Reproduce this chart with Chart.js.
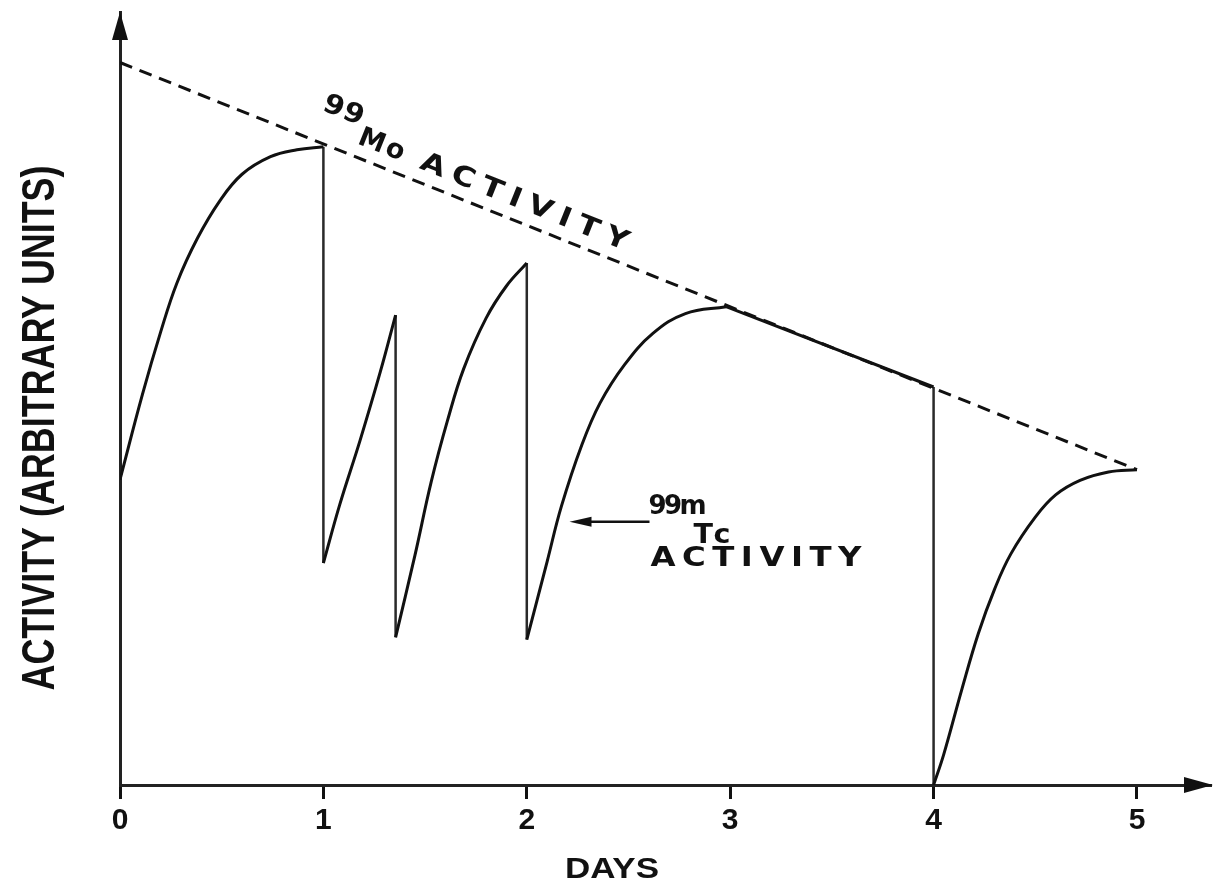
<!DOCTYPE html>
<html lang="en">
<head>
    <meta charset="UTF-8">
    <title>99Mo / 99mTc activity</title>
    <script src="https://cdn.jsdelivr.net/npm/chart.js"></script>
    <style>
        html, body { margin: 0; padding: 0; background: #fff; }
        #wrap { width: 1219px; height: 884px; }
    </style>
</head>
<body>
    <div id="wrap"><canvas id="activityChart"></canvas></div>

    <script>
        // x ticks (days)
        const dayTicks = [0, 1, 2, 3, 4, 5];

        // 99Mo parent activity (dashed line)
        const moDays = [0, 5];
        const moActivity = [94.4, 41.2];

        // 99mTc activity, one array pair per growth period
        const tcDays1 = [0, 0.11, 0.2, 0.28, 0.38, 0.49, 0.6, 0.74, 0.87, 1];
        const tcAct1 = [39.9, 51.0, 59.2, 65.6, 71.4, 76.3, 79.8, 82.1, 83.0, 83.4];
        const tcDays2 = [1, 1.08, 1.18, 1.28, 1.355];
        const tcAct2 = [29.0, 36.6, 45.0, 54.0, 61.4];
        const tcDays3 = [1.355, 1.45, 1.53, 1.61, 1.69, 1.8, 1.9, 2];
        const tcAct3 = [19.3, 30.0, 39.6, 47.6, 54.4, 61.0, 65.2, 68.2];
        const tcDays4 = [2, 2.1, 2.17, 2.27, 2.36, 2.48, 2.62, 2.78, 2.98];
        const tcAct4 = [19.0, 29.2, 36.4, 44.4, 49.9, 54.9, 59.0, 61.6, 62.5];
        const tcDays5 = [2.98, 4];
        const tcAct5 = [62.5, 52.0];
        const tcDays6 = [4, 4.05, 4.14, 4.22, 4.3, 4.38, 4.5, 4.6, 4.72, 4.86, 5];
        const tcAct6 = [0, 4.0, 12.6, 19.8, 25.6, 30.2, 35.0, 37.9, 39.8, 40.9, 41.2];

        const toPoints = (xs, ys) => xs.map((x, i) => ({ x: x, y: ys[i] }));

        const rises = [
            toPoints(tcDays1, tcAct1),
            toPoints(tcDays2, tcAct2),
            toPoints(tcDays3, tcAct3),
            toPoints(tcDays4, tcAct4),
            toPoints(tcDays6, tcAct6)
        ];
        const plateau = toPoints(tcDays5, tcAct5);

        // elutions: vertical drop from end of one period to start of the next
        const drops = [
            [rises[0][rises[0].length - 1], rises[1][0]],
            [rises[1][rises[1].length - 1], rises[2][0]],
            [rises[2][rises[2].length - 1], rises[3][0]],
            [plateau[plateau.length - 1], rises[4][0]]
        ];

        const INK = '#111';
        const FONT_NARROW = '"Liberation Sans Narrow", "Liberation Sans", Arial, sans-serif';
        const FONT_LABEL = '"DejaVu Sans", "Liberation Sans", sans-serif';

        const datasets = [];
        rises.forEach(pts => datasets.push({
            data: pts, borderColor: INK, borderWidth: 3,
            tension: 0.4, pointRadius: 0, showLine: true
        }));
        datasets.push({
            data: plateau, borderColor: INK, borderWidth: 3,
            tension: 0, pointRadius: 0, showLine: true
        });
        drops.forEach(pts => datasets.push({
            data: pts, borderColor: '#2a2a2a', borderWidth: 2.5,
            tension: 0, pointRadius: 0, showLine: true
        }));
        datasets.push({
            data: toPoints(moDays, moActivity), borderColor: INK, borderWidth: 3,
            borderDash: [13, 8], tension: 0, pointRadius: 0, showLine: true
        });

        // draw text with letters stretched horizontally and spaced to fill a width
        function wideText(ctx, text, x, y, width, stretch) {
            const chars = text.split('');
            const widths = chars.map(c => ctx.measureText(c).width * stretch);
            const total = widths.reduce((a, b) => a + b, 0);
            const gap = chars.length > 1 ? (width - total) / (chars.length - 1) : 0;
            let cx = x;
            chars.forEach((c, i) => {
                ctx.save();
                ctx.translate(cx, y);
                ctx.scale(stretch, 1);
                ctx.fillText(c, 0, 0);
                ctx.restore();
                cx += widths[i] + gap;
            });
        }

        // draw text squeezed/stretched horizontally to a given width, centred
        function fittedText(ctx, text, x, y, width) {
            const w = ctx.measureText(text).width;
            ctx.save();
            ctx.translate(x, y);
            ctx.scale(width / w, 1);
            ctx.textAlign = 'center';
            ctx.fillText(text, 0, 0);
            ctx.restore();
        }

        const decorations = {
            id: 'decorations',
            afterDraw(chart) {
                const ctx = chart.ctx;
                const xs = chart.scales.x, ys = chart.scales.y;
                const area = chart.chartArea;
                ctx.save();
                ctx.fillStyle = INK;
                ctx.strokeStyle = INK;

                // axis arrow heads
                ctx.beginPath();
                ctx.moveTo(area.left, area.top);
                ctx.lineTo(area.left - 8, area.top + 28);
                ctx.lineTo(area.left + 8, area.top + 28);
                ctx.closePath();
                ctx.fill();
                ctx.beginPath();
                ctx.moveTo(area.right + 3, area.bottom);
                ctx.lineTo(area.right - 26, area.bottom - 8);
                ctx.lineTo(area.right - 26, area.bottom + 8);
                ctx.closePath();
                ctx.fill();

                // axis titles
                ctx.textBaseline = 'alphabetic';
                ctx.font = 'bold 46px ' + FONT_NARROW;
                ctx.save();
                ctx.translate(54, 428);
                ctx.rotate(-Math.PI / 2);
                fittedText(ctx, 'ACTIVITY (ARBITRARY UNITS)', 0, 0, 525);
                ctx.restore();
                ctx.font = 'bold 30px ' + FONT_NARROW;
                fittedText(ctx, 'DAYS', 612, 878, 94);

                // 99Mo label along the dashed line
                const p0 = { x: xs.getPixelForValue(moDays[0]), y: ys.getPixelForValue(moActivity[0]) };
                const p1 = { x: xs.getPixelForValue(moDays[1]), y: ys.getPixelForValue(moActivity[1]) };
                const ang = Math.atan2(p1.y - p0.y, p1.x - p0.x);
                const d0 = 1.143;
                const ax = xs.getPixelForValue(d0);
                const ay = ys.getPixelForValue(moActivity[0] + (moActivity[1] - moActivity[0]) * d0 / 5);
                ctx.save();
                ctx.translate(ax, ay);
                ctx.rotate(ang);
                ctx.font = 'bold 27px ' + FONT_LABEL;
                wideText(ctx, '99', -46, -31, 42, 1.1);
                wideText(ctx, 'Mo', -1, -13, 48, 1.0);
                wideText(ctx, 'ACTIVITY', 66, -13, 222, 1.2);
                ctx.restore();

                // 99mTc label with arrow pointing at the curve
                const tx = xs.getPixelForValue(2.21);
                const ty = ys.getPixelForValue(34.4);
                ctx.lineWidth = 2.5;
                ctx.beginPath();
                ctx.moveTo(tx + 12, ty);
                ctx.lineTo(tx + 80, ty);
                ctx.stroke();
                ctx.beginPath();
                ctx.moveTo(tx, ty);
                ctx.lineTo(tx + 22, ty - 5);
                ctx.lineTo(tx + 22, ty + 5);
                ctx.closePath();
                ctx.fill();
                ctx.font = 'bold 26px ' + FONT_LABEL;
                wideText(ctx, '99m', tx + 79, ty - 8, 58, 1.0);
                wideText(ctx, 'Tc', tx + 124, ty + 21, 37, 1.1);
                ctx.font = 'bold 27px ' + FONT_LABEL;
                wideText(ctx, 'ACTIVITY', tx + 81, ty + 44, 211, 1.2);
                ctx.restore();
            }
        };

        new Chart(document.getElementById('activityChart'), {
            type: 'scatter',
            data: { datasets: datasets },
            options: {
                responsive: true,
                maintainAspectRatio: false,
                animation: false,
                layout: { padding: { top: 12, right: 9, left: 0, bottom: 0 } },
                plugins: {
                    legend: { display: false },
                    tooltip: { enabled: false }
                },
                scales: {
                    x: {
                        type: 'linear',
                        min: 0,
                        max: 5.359,
                        afterFit: scale => { scale.height = 99; },
                        afterBuildTicks: scale => {
                            scale.ticks = dayTicks.map(v => ({ value: v }));
                        },
                        ticks: {
                            color: INK,
                            padding: 4,
                            maxRotation: 0,
                            font: { family: FONT_NARROW, size: 30, weight: 'bold' },
                            callback: v => String(v)
                        },
                        grid: {
                            display: true,
                            drawOnChartArea: false,
                            drawTicks: true,
                            tickLength: 14,
                            color: INK,
                            lineWidth: 3
                        },
                        border: { display: true, color: '#222', width: 3 }
                    },
                    y: {
                        type: 'linear',
                        min: 0,
                        max: 101,
                        afterFit: scale => { scale.width = 120; },
                        ticks: { display: false },
                        grid: { display: false },
                        border: { display: true, color: '#222', width: 3 }
                    }
                }
            },
            plugins: [decorations]
        });
    </script>
</body>
</html>
